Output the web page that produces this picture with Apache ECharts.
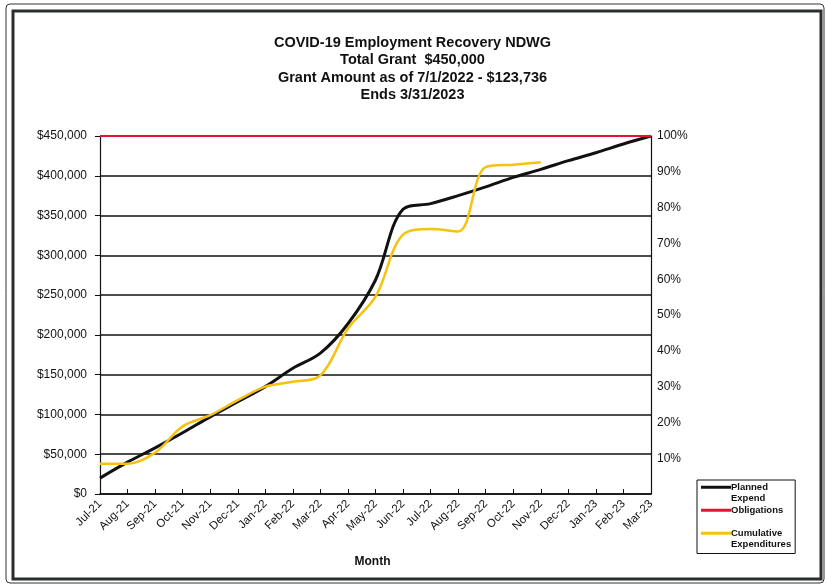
<!DOCTYPE html>
<html>
<head>
<meta charset="utf-8">
<script src="https://cdn.jsdelivr.net/npm/echarts@6/dist/echarts.min.js"></script>
<style>
html,body{margin:0;padding:0;background:#fff;}
#chart{width:825px;height:585px;}
</style>
</head>
<body>
<div id="chart"></div>
<script>
var months = ['Jul-21','Aug-21','Sep-21','Oct-21','Nov-21','Dec-21','Jan-22','Feb-22','Mar-22','Apr-22','May-22','Jun-22','Jul-22','Aug-22','Sep-22','Oct-22','Nov-22','Dec-22','Jan-23','Feb-23','Mar-23'];
var plannedExpend = [20000, 40000, 58000, 77000, 97000, 116000, 135000, 158000, 177000, 214000, 269000, 358000, 365000, 375000, 386000, 398000, 408000, 419000, 429000, 440000, 450000];
var obligations = [450000, 450000, 450000, 450000, 450000, 450000, 450000, 450000, 450000, 450000, 450000, 450000, 450000, 450000, 450000, 450000, 450000, 450000, 450000, 450000, 450000];
var cumulativeExpenditures = [38000, 38000, 52000, 85000, 99000, 118000, 135000, 141000, 149000, 208000, 248000, 326000, 333000, 330000, 411000, 414000, 417000, null, null, null, null];
var percentTicks = [0, 10, 20, 30, 40, 50, 60, 70, 80, 90, 100];
var titleLines = ['COVID-19 Employment Recovery NDWG', 'Total Grant  $450,000', 'Grant Amount as of 7/1/2022 - $123,736', 'Ends 3/31/2023'];
var legendLabels = {
  'Planned Expend': ' \nPlanned\nExpend',
  'Obligations': ' \nObligations\n ',
  'Cumulative Expenditures': ' \nCumulative\nExpenditures'
};

var chart = echarts.init(document.getElementById('chart'), null, {renderer: 'canvas'});
var font = 'Arial, "Liberation Sans", sans-serif';
function money(v) {
  return '$' + String(v).replace(/\B(?=(\d{3})+(?!\d))/g, ',');
}
var option = {
  backgroundColor: '#fff',
  animation: false,
  textStyle: {fontFamily: font},
  title: {
    text: titleLines.join('\n'),
    left: 'center',
    top: 29,
    textStyle: {fontSize: 14.5, fontWeight: 'bold', color: '#111', lineHeight: 17.5, fontFamily: font}
  },
  graphic: [
    {type: 'rect', shape: {x: 6, y: 4, width: 818, height: 579, r: 4}, style: {fill: 'none', stroke: '#333', lineWidth: 1}, silent: true},
    {type: 'rect', shape: {x: 13, y: 11, width: 808, height: 568}, style: {fill: 'none', stroke: '#2a2f2c', lineWidth: 3}, silent: true}
  ],
  legend: {
    orient: 'vertical',
    left: 697,
    top: 480,
    itemWidth: 30,
    itemHeight: 3,
    itemGap: -11.5,
    icon: 'rect',
    padding: [-10, 4, 3, 4],
    borderColor: '#111',
    borderWidth: 1,
    data: ['Planned Expend', 'Obligations', 'Cumulative Expenditures'],
    formatter: function (name) { return legendLabels[name]; },
    textStyle: {fontSize: 9.5, fontWeight: 'bold', color: '#111', lineHeight: 11.5, padding: [0, 0, 0, -5]}
  },
  grid: {left: 100, right: 174, top: 136, bottom: 91, containLabel: false},
  xAxis: {
    type: 'category',
    data: months,
    boundaryGap: false,
    name: 'Month',
    nameLocation: 'middle',
    nameGap: 62,
    nameTextStyle: {fontSize: 12, fontWeight: 'bold', color: '#111', padding: [0, 6, 0, 0]},
    axisLine: {lineStyle: {color: '#111', width: 1.5}},
    axisTick: {inside: true, length: 5, alignWithLabel: true, lineStyle: {color: '#111'}},
    axisLabel: {rotate: 45, fontSize: 11.5, color: '#111', margin: 8, interval: 0}
  },
  yAxis: [
    {
      type: 'value',
      min: 0,
      max: 450000,
      interval: 50000,
      axisLine: {show: true, lineStyle: {color: '#111', width: 1.2}},
      axisTick: {show: true, length: 5, lineStyle: {color: '#111'}},
      axisLabel: {fontSize: 12, color: '#111', margin: 13, formatter: money},
      splitLine: {show: true, lineStyle: {color: '#111', width: 1.5}}
    },
    {
      type: 'value',
      min: percentTicks[0],
      max: percentTicks[percentTicks.length - 1],
      interval: 10,
      position: 'right',
      axisLine: {show: true, lineStyle: {color: '#111', width: 1.2}},
      axisTick: {show: false},
      axisLabel: {fontSize: 12, color: '#111', margin: 6, formatter: function (v) { return v === 0 ? '' : v + '%'; }},
      splitLine: {show: false}
    }
  ],
  series: [
    {
      name: 'Planned Expend',
      type: 'line',
      data: plannedExpend,
      smooth: 0.35,
      symbol: 'none',
      color: '#111',
      lineStyle: {color: '#111', width: 3},
      z: 3
    },
    {
      name: 'Obligations',
      type: 'line',
      data: obligations,
      symbol: 'none',
      color: '#e8132e',
      lineStyle: {color: '#e8132e', width: 2},
      z: 4
    },
    {
      name: 'Cumulative Expenditures',
      type: 'line',
      data: cumulativeExpenditures,
      smooth: 0.35,
      symbol: 'none',
      color: '#f7c20f',
      lineStyle: {color: '#f7c20f', width: 2.5},
      z: 5
    }
  ]
};
chart.setOption(option);
</script>
</body>
</html>
